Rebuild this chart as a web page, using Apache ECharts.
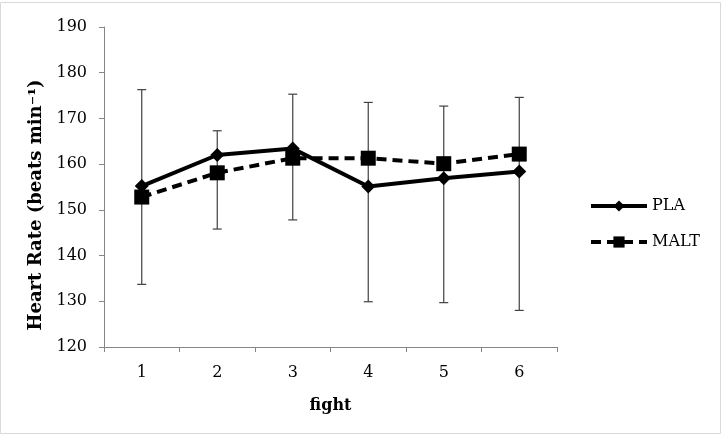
<!DOCTYPE html>
<html>
<head>
<meta charset="utf-8">
<script src="https://cdn.jsdelivr.net/npm/echarts@6/dist/echarts.min.js"></script>
<style>html,body{margin:0;padding:0;background:#fff}#c{width:725px;height:436px}</style>
</head>
<body>
<div id="c"></div>
<script>
var categories = ['1', '2', '3', '4', '5', '6'];
var plaValues = [155.2, 162.0, 163.4, 155.1, 156.9, 158.4];
var maltValues = [152.8, 158.1, 161.3, 161.3, 160.1, 162.2];
var errLow = [133.7, 145.8, 147.8, 129.9, 129.7, 128.0];
var errHigh = [176.3, 167.3, 175.3, 173.5, 172.7, 174.6];
var yTicks = [120, 130, 140, 150, 160, 170, 180, 190];

var FONT = '"DejaVu Serif", "Liberation Serif", serif';
var chart = echarts.init(document.getElementById('c'), null, {renderer: 'canvas'});
var errData = categories.map(function (c, i) { return [i, errLow[i], errHigh[i]]; });

chart.setOption({
  animation: false,
  backgroundColor: '#fff',
  graphic: [{
    type: 'rect', silent: true, z: -1,
    shape: {x: 0.5, y: 2.5, width: 720, height: 431},
    style: {fill: 'none', stroke: '#d9d9d9', lineWidth: 1}
  }],
  grid: {left: 104, right: 168, top: 27, bottom: 89},
  legend: {
    orient: 'vertical', left: 584, top: 193, itemGap: 20,
    itemWidth: 56, itemHeight: 14,
    lineStyle: {width: 4},
    textStyle: {fontFamily: FONT, fontSize: 16, color: '#000'},
    data: ['PLA', 'MALT']
  },
  xAxis: {
    type: 'category', data: categories, boundaryGap: true,
    name: 'fight', nameLocation: 'middle', nameGap: 51,
    nameTextStyle: {fontFamily: FONT, fontSize: 16, fontWeight: 'bold', color: '#000'},
    axisLine: {lineStyle: {color: '#868686', width: 1}},
    axisTick: {show: true, alignWithLabel: false, length: 5, lineStyle: {color: '#868686'}},
    axisLabel: {fontFamily: FONT, fontSize: 16, color: '#000', margin: 18},
    splitLine: {show: false}
  },
  yAxis: {
    type: 'value', min: yTicks[0], max: yTicks[yTicks.length - 1], interval: 10,
    name: 'Heart Rate (beats min\u207B\u00B9)', nameLocation: 'middle', nameGap: 56,
    nameTextStyle: {fontFamily: FONT, fontSize: 18, fontWeight: 'bold', color: '#000', padding: [0, 36, 0, 0]},
    axisLine: {show: true, lineStyle: {color: '#868686', width: 1}},
    axisTick: {show: true, length: 5, lineStyle: {color: '#868686'}},
    axisLabel: {fontFamily: FONT, fontSize: 16, color: '#000', margin: 17},
    splitLine: {show: false}
  },
  series: [
    {
      name: 'errors', type: 'custom', z: 1, silent: true,
      data: errData,
      renderItem: function (params, api) {
        var x = api.value(0);
        var lo = api.coord([x, api.value(1)]);
        var hi = api.coord([x, api.value(2)]);
        var cap = 4.5;
        var st = {stroke: '#404040', lineWidth: 1.2};
        return {type: 'group', children: [
          {type: 'line', shape: {x1: lo[0], y1: lo[1], x2: hi[0], y2: hi[1]}, style: st},
          {type: 'line', shape: {x1: lo[0] - cap, y1: lo[1], x2: lo[0] + cap, y2: lo[1]}, style: st},
          {type: 'line', shape: {x1: hi[0] - cap, y1: hi[1], x2: hi[0] + cap, y2: hi[1]}, style: st}
        ]};
      }
    },
    {
      name: 'PLA', type: 'line', data: plaValues, z: 3,
      symbol: 'diamond', symbolSize: 14,
      lineStyle: {color: '#000', width: 4, type: 'solid'},
      itemStyle: {color: '#000'}
    },
    {
      name: 'MALT', type: 'line', data: maltValues, z: 2,
      symbol: 'rect', symbolSize: 15,
      lineStyle: {color: '#000', width: 4, type: [10, 6]},
      itemStyle: {color: '#000'}
    }
  ]
});
</script>
</body>
</html>
